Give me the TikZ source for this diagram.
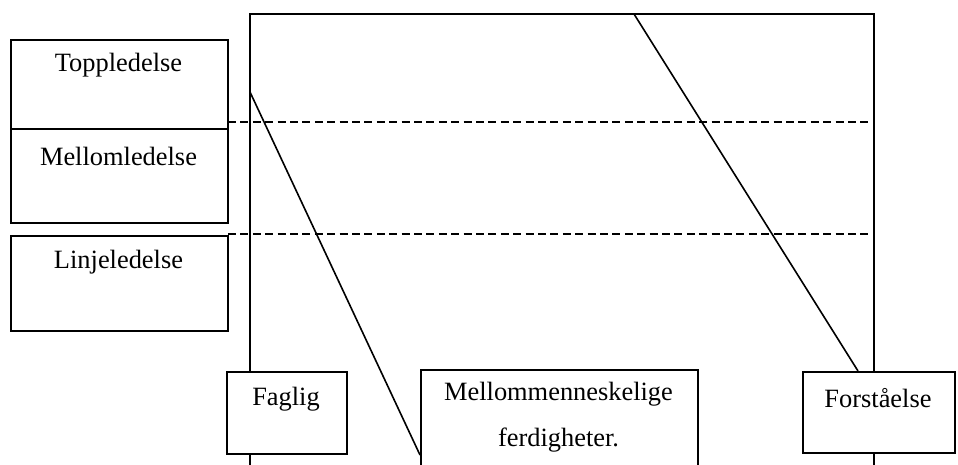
\documentclass[tikz,border=0pt]{standalone}
\usepackage{fontspec}
\setmainfont{Liberation Serif}
\begin{document}
\begin{tikzpicture}[x=0.5pt,y=-0.5pt,
  every node/.style={font=\fontsize{13.2}{16}\selectfont},
  ln/.style={line width=0.8pt},
  dsh/.style={line width=0.8pt, dash pattern=on 4pt off 2.2pt},
  boxn/.style={draw, line width=0.8pt, fill=white, anchor=north west, inner sep=0pt},
  lbl/.style={inner sep=0pt, anchor=center}]
\useasboundingbox (0,0) rectangle (958,465);
% frame
\coordinate (fbl) at (250,465);
\coordinate (ftl) at (250,14);
\coordinate (ftr) at (874,14);
\coordinate (fbr) at (874,465);
\draw[ln] (fbl) -- (ftl) -- (ftr) -- (fbr);
% dashed levels
\coordinate (d1a) at (228,122); \coordinate (d1b) at (872,122);
\coordinate (d2a) at (228,234); \coordinate (d2b) at (872,234);
\draw[dsh] (d1a) -- (d1b);
\draw[dsh] (d2a) -- (d2b);
% diagonals
\coordinate (g1a) at (250,92); \coordinate (g1b) at (420,455);
\coordinate (g2a) at (634,14); \coordinate (g2b) at (858,371);
\draw[ln] (g1a) -- (g1b);
\draw[ln] (g2a) -- (g2b);
% left boxes
\node[boxn, minimum width=108.5pt, minimum height=44.5pt] (top) at (10,39) {};
\node[boxn, minimum width=108.5pt, minimum height=47pt] (mid) at (10,128) {};
\node[boxn, minimum width=108.5pt, minimum height=47.5pt] (lin) at (10,235) {};
\node[lbl] (toptx) at (118.5,65) {Toppledelse};
\node[lbl] (midtx) at (118.5,156) {Mellomledelse};
\node[lbl] (lintx) at (118.5,262) {Linjeledelse};
% bottom boxes
\node[boxn, minimum width=60pt, minimum height=41pt] (fag) at (226,371) {};
\node[boxn, minimum width=138.5pt, minimum height=49pt] (mm) at (420,369) {};
\node[boxn, minimum width=76pt, minimum height=40.5pt] (for) at (802,371) {};
\node[lbl] (fagtx) at (286,399) {Faglig};
\node[lbl] (mmtx1) at (558.5,394) {Mellommenneskelige};
\node[lbl] (mmtx2) at (558.5,440) {ferdigheter.};
\node[lbl] (fortx) at (878,398) {Forståelse};
\end{tikzpicture}
\end{document}
